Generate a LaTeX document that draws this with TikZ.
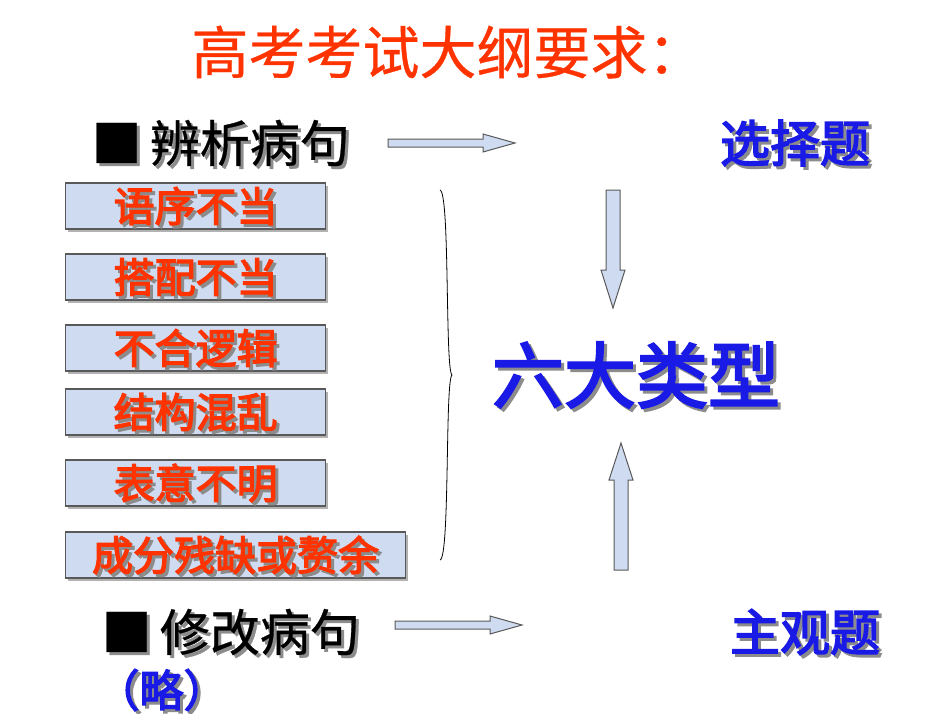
\documentclass[tikz,border=0pt]{standalone}
\usepackage{fontspec}
\newfontfamily\cjk[FakeBold=0.6]{Noto Sans CJK SC}
\newfontfamily\cjkb[FakeBold=3]{Noto Sans CJK SC}
\definecolor{ttl}{HTML}{FF3300}
\definecolor{bx}{HTML}{CFDBF0}
\definecolor{bb}{HTML}{1A1AE6}
\newcommand{\stxt}[4][]{%
  \node[#1,text=black!45] at ([shift={(3,3)}]#3) {#4};
  \node[#1] (#2) at (#3) {#4};}
\newcommand{\harr}[1]{\draw[arrowst] ([shift={(0,-4)}]#1) -- ++(95,0) -- ++(0,-5) -- ++(32,9) -- ++(-32,9) -- ++(0,-5) -- ++(-95,0) -- cycle;}
\tikzset{
  box/.style={draw=gray!70!black,fill=bx,line width=1.2,minimum height=46,anchor=west,inner sep=0},
  boxtxt/.style={font=\cjkb\fontsize{41}{41}\selectfont,text=ttl},
  arrowst/.style={draw=gray!70!black,fill=bx,line width=1},
}
\begin{document}
\begin{tikzpicture}[x=1pt,y=-1pt]
\useasboundingbox (0,0) rectangle (950,713);
\node[font=\cjk\fontsize{57}{57}\selectfont,text=ttl] (title) at (448,52) {高考考试大纲要求：};
\stxt[font=\cjk\fontsize{50}{50}\selectfont,anchor=west]{bx1}{88,143}{■\,辨析病句}
\stxt[font=\cjkb\fontsize{50}{50}\selectfont,text=bb]{xz}{795,143}{选择题}
\foreach \n/\y/\w/\t in {a/206/260/语序不当,b/277/260/搭配不当,c/348/260/不合逻辑,d/412/260/结构混乱,e/483/260/表意不明,f/555/340/成分残缺或赘余}{
  \fill[gray!60] (68,\y-20) rectangle (65+\w+3,\y+26);
  \node[box,minimum width=\w] (\n) at (65,\y) {};
  \stxt[boxtxt]{t\n}{\n.center}{\t}
}
\draw[line width=0.8] (440,190) .. controls (450,192) and (445,370) .. (452,375) .. controls (445,380) and (450,558) .. (440,560);
\coordinate (h1) at (388,143);
\coordinate (h2) at (395,625);
\harr{h1}
\harr{h2}
\coordinate (v1) at (613,190);
\coordinate (v2) at (621,570);
\draw[arrowst] ([shift={(-7,0)}]v1) -- ++(0,80) -- ++(-5,0) -- ++(12,38) -- ++(12,-38) -- ++(-5,0) -- ++(0,-80) -- cycle;
\draw[arrowst] ([shift={(-7,0)}]v2) -- ++(0,-90) -- ++(-5,0) -- ++(12,-37) -- ++(12,37) -- ++(-5,0) -- ++(0,90) -- cycle;
\stxt[font=\cjkb\fontsize{72}{72}\selectfont,text=bb]{six}{636,375}{六大类型}
\stxt[font=\cjk\fontsize{50}{50}\selectfont,anchor=west]{bx2}{98,632}{■\,修改病句}
\stxt[font=\cjkb\fontsize{50}{50}\selectfont,text=bb]{zg}{805,632}{主观题}
\stxt[font=\cjkb\fontsize{44}{44}\selectfont,text=bb,anchor=west]{lue}{92,690}{（略）}
\end{tikzpicture}
\end{document}
